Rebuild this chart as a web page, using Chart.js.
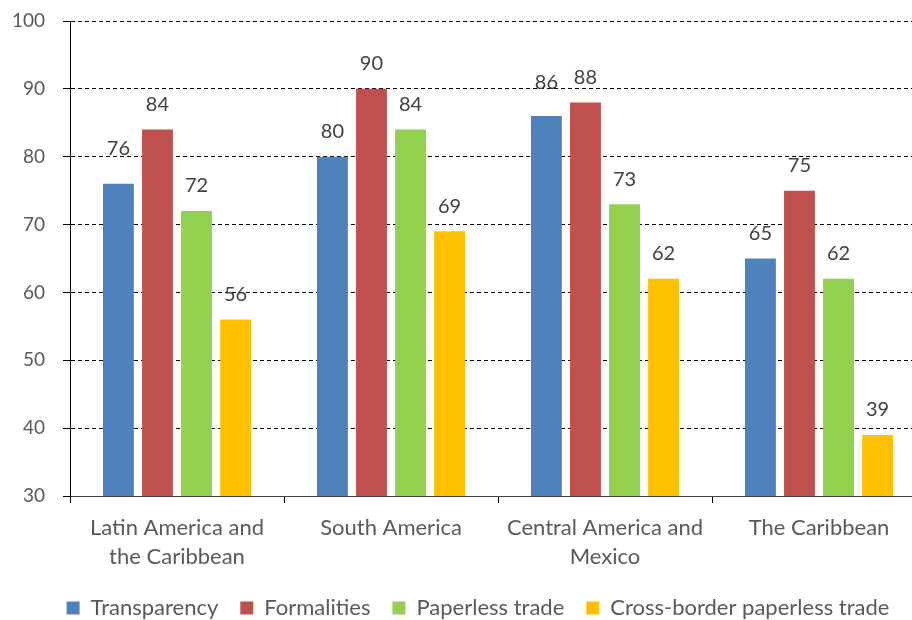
<!DOCTYPE html>
<html>
<head>
<meta charset="utf-8">
<title>Trade facilitation scores by region</title>
<script src="https://cdn.jsdelivr.net/npm/chart.js@4.4.1/dist/chart.umd.min.js"></script>
<style>
  html, body { margin: 0; padding: 0; overflow: hidden; background: #fff; }
  #wrap { position: absolute; left: 0; top: 0; width: 940px; height: 629px; }
</style>
</head>
<body>
<div id="wrap"><canvas id="scoresChart"></canvas></div>
<script>
// Regions on the x axis (arrays = wrapped labels)
const regions = [['Latin America and', 'the Caribbean'], 'South America', ['Central America and', 'Mexico'], 'The Caribbean'];

// Scores per series, one value per region
const seriesNames = ['Transparency', 'Formalities', 'Paperless trade', 'Cross-border paperless trade'];
const transparency = [76, 80, 86, 65];
const formalities = [84, 90, 88, 75];
const paperless = [72, 84, 73, 62];
const crossBorder = [56, 69, 62, 39];

const yMin = 30;
const yMax = 100;
const yStep = 10;

const seriesColors = ['#4F81BD', '#C0504D', '#92D050', '#FFC000'];
const fontFamily = 'Lato, "Open Sans", sans-serif';

const allValues = [transparency, formalities, paperless, crossBorder];

// A couple of labels sit a bit higher so they clear their neighbours
const labelLift = { '0-0': 10, '0-2': 8 };

// Writes the value above each bar
const valueLabels = {
  id: 'valueLabels',
  afterDatasetsDraw(chart) {
    const ctx = chart.ctx;
    ctx.save();
    ctx.font = '20px ' + fontFamily;
    ctx.fillStyle = '#404040';
    ctx.textAlign = 'center';
    ctx.textBaseline = 'middle';
    chart.data.datasets.forEach((ds, i) => {
      const meta = chart.getDatasetMeta(i);
      meta.data.forEach((bar, j) => {
        const lift = labelLift[i + '-' + j] || 0;
        ctx.fillText(String(ds.data[j]), bar.x, bar.y - 25 - lift);
      });
    });
    ctx.restore();
  }
};

// Nudges the legend row to the right, under the plot
const legendShift = {
  id: 'legendShift',
  afterLayout(chart) {
    if (chart.legend) {
      chart.legend.left += 15;
      chart.legend.right += 15;
    }
  }
};

const ctx = document.getElementById('scoresChart').getContext('2d');
new Chart(ctx, {
  type: 'bar',
  data: {
    labels: regions,
    datasets: seriesNames.map((name, i) => ({
      label: name,
      data: allValues[i],
      backgroundColor: seriesColors[i],
      borderWidth: 0,
      categoryPercentage: 0.73,
      barPercentage: 0.79
    }))
  },
  options: {
    responsive: true,
    maintainAspectRatio: false,
    animation: false,
    layout: { padding: { top: 21, right: 14, left: 0, bottom: 0 } },
    plugins: {
      tooltip: { enabled: false },
      legend: {
        position: 'bottom',
        labels: {
          boxWidth: 13,
          boxHeight: 13,
          padding: 22,
          color: '#595959',
          font: { family: fontFamily, size: 22 }
        }
      }
    },
    scales: {
      x: {
        afterFit(scale) { scale.height = 79; },
        grid: {
          drawOnChartArea: false,
          drawTicks: true,
          tickLength: 7,
          color: '#000'
        },
        border: { color: '#404040', width: 1 },
        ticks: {
          color: '#595959',
          padding: 10,
          font: { family: fontFamily, size: 22, lineHeight: 1.32 }
        }
      },
      y: {
        min: yMin,
        max: yMax,
        afterFit(scale) {
          scale.width = 70;
          scale.paddingTop = 0;
          scale.paddingBottom = 0;
        },
        grid: {
          color: (c) => (c.tick && c.tick.value === yMin ? 'rgba(0,0,0,0)' : '#000'),
          tickColor: '#000',
          tickLength: 7,
          tickBorderDash: []
        },
        border: { color: '#000', width: 1, dash: [4, 3] },
        ticks: {
          stepSize: yStep,
          color: '#595959',
          padding: 18,
          font: { family: fontFamily, size: 19 }
        }
      }
    }
  },
  plugins: [valueLabels, legendShift]
});
</script>
</body>
</html>
